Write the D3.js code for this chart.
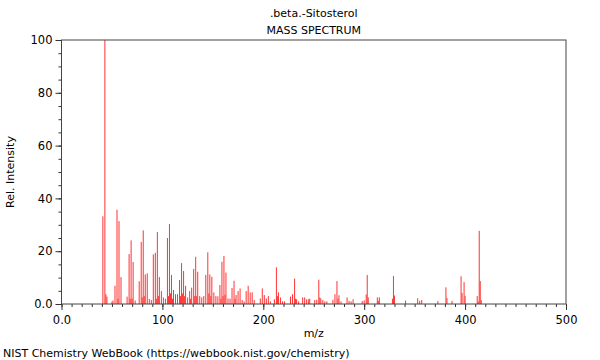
<body style="margin:0;background:#fff"></body>
<script src="https://d3js.org/d3.v7.min.js"></script>
<script>
    const width = 600;
    const height = 360;
    const margin = { top: 40, right: 34, bottom: 56, left: 61.5 };

    const title = ".beta.-Sitosterol";
    const subtitle = "MASS SPECTRUM";
    const footer = "NIST Chemistry WebBook (https://webbook.nist.gov/chemistry)";

    // m/z values and their relative intensities
    const mz = [41, 43, 44, 45, 50, 51, 53, 55, 56, 57, 59, 65, 67, 68, 69, 70, 71, 73, 77, 79, 80, 81, 82, 83, 85, 87, 89,
        91, 93, 94, 95, 96, 97, 99, 101, 103, 105, 106, 107, 108, 109, 110, 111, 113, 115, 117, 118, 119, 120, 121, 122,
        123, 125, 127, 128, 129, 131, 132, 133, 134, 135, 137, 139, 141, 143, 145, 146, 147, 148, 149, 151, 153, 155,
        157, 158, 159, 160, 161, 162, 163, 165, 167, 169, 171, 172, 173, 175, 177, 179, 181, 183, 185, 187, 189, 191,
        197, 199, 201, 203, 205, 207, 211, 213, 214, 215, 217, 219, 221, 227, 229, 231, 232, 233, 235, 239, 241, 243,
        245, 246, 251, 253, 255, 256, 257, 259, 261, 263, 269, 271, 273, 274, 275, 277, 283, 285, 287, 289, 298, 300,
        302, 303, 304, 313, 314, 315, 328, 329, 330, 341, 353, 355, 357, 373, 381, 382, 387, 396, 397, 399, 400, 412,
        413, 414, 415, 416];
    const intensity = [33.2, 100, 3.7, 2.8, 0.9, 1.3, 6.9, 35.7, 2, 31.4, 10.2, 2.8, 18.9, 2, 24.1, 2, 15.9, 1.3, 8.6, 23.5,
        2.5, 27.9, 3, 11.2, 11.6, 1.9, 1.5,
        18.8, 19.4, 2, 27.3, 3, 10.2, 4.9, 2.5, 2, 25, 3, 30.3, 4, 11, 2, 5.3, 3.7, 3.7, 9.1, 3, 15.5, 4, 12.5, 3,
        6.9, 2.5, 4.9, 2, 6.2, 13.3, 3, 17.9, 3, 12.2, 3, 2.5, 3, 11, 19.6, 4, 11.2, 3, 10.3, 4.4, 3, 2.9,
        7.2, 2, 16, 3, 18.2, 3.5, 11.9, 2.1, 2, 6.1, 8.8, 2, 3.4, 4.9, 5.9, 1.5, 1, 4.9, 6.9, 4.4, 4.4, 1.5,
        2.1, 5.9, 3.4, 2.1, 3, 1, 1.8, 13.9, 3, 4.4, 2.5, 1, 1, 2.8, 3.7, 9.6, 2, 1.8, 1, 2.5, 2.5, 1.8,
        1.8, 2, 1.5, 1.6, 9.2, 2.5, 2.1, 1.5, 1, 1, 1.6, 3.7, 8.7, 2, 3.3, 1, 2.5, 1.2, 1, 1.8, 1.1, 1.4,
        3.6, 11, 2.5, 2.5, 1.2, 2.5, 2, 10.6, 3.2, 1.3, 2.2, 1.2, 1.5, 1.1, 6.3, 2.3, 1.2, 10.5, 4.2, 8.3, 3.1, 3,
        1, 27.7, 8.7, 1.5];

    const xMajor = [0, 100, 200, 300, 400, 500];
    const xMajorLabels = ["0.0", "100", "200", "300", "400", "500"];
    const yMajor = [0, 20, 40, 60, 80, 100];
    const yMajorLabels = ["0.0", "20", "40", "60", "80", "100"];

    const peaks = mz.map(function (m, i) { return { mz: m, rel: intensity[i] }; });

    const x = d3.scaleLinear().domain([0, 500]).range([margin.left, width - margin.right]);
    const y = d3.scaleLinear().domain([0, 100]).range([height - margin.bottom, margin.top]);

    const svg = d3.select("body").append("svg")
        .attr("width", width)
        .attr("height", height)
        .style("font-family", "'DejaVu Sans', sans-serif")
        .style("display", "block");

    // peaks
    svg.append("g")
        .selectAll("line")
        .data(peaks)
        .enter()
        .append("line")
        .attr("x1", function (d) { return x(d.mz); })
        .attr("x2", function (d) { return x(d.mz); })
        .attr("y1", y(0))
        .attr("y2", function (d) { return y(d.rel); })
        .attr("stroke", "#ff3333")
        .attr("stroke-width", 1);

    // x axis: minor ticks every 10, labels every 100
    const xMinor = svg.append("g")
        .attr("transform", "translate(0," + y(0) + ")")
        .call(d3.axisBottom(x).tickValues(d3.range(0, 501, 10)).tickSize(3).tickFormat(""));
    const xAx = svg.append("g")
        .attr("transform", "translate(0," + y(0) + ")")
        .call(d3.axisBottom(x).tickValues(xMajor).tickSize(6)
            .tickFormat(function (d, i) { return xMajorLabels[i]; }));

    // y axis: minor ticks every 5, labels every 20
    const yMinor = svg.append("g")
        .attr("transform", "translate(" + x(0) + ",0)")
        .call(d3.axisLeft(y).tickValues(d3.range(0, 101, 5)).tickSize(3).tickFormat(""));
    const yAx = svg.append("g")
        .attr("transform", "translate(" + x(0) + ",0)")
        .call(d3.axisLeft(y).tickValues(yMajor).tickSize(6)
            .tickFormat(function (d, i) { return yMajorLabels[i]; }));

    [xMinor, xAx, yMinor, yAx].forEach(function (g) {
        g.select(".domain").remove();
        g.selectAll("line").attr("stroke", "#333");
        g.selectAll("text").attr("fill", "#000").style("font-size", "11.5px").style("font-family", "'DejaVu Sans', sans-serif");
    });
    xAx.selectAll("text").attr("dy", "0.95em");

    // frame
    svg.append("rect")
        .attr("x", x(0))
        .attr("y", y(100))
        .attr("width", x(500) - x(0))
        .attr("height", y(0) - y(100))
        .attr("fill", "none")
        .attr("stroke", "#444")
        .attr("stroke-width", 1);

    svg.append("text")
        .attr("x", (x(0) + x(500)) / 2)
        .attr("y", 17)
        .attr("text-anchor", "middle")
        .style("font-size", "11px")
        .text(title);
    svg.append("text")
        .attr("x", (x(0) + x(500)) / 2)
        .attr("y", 34)
        .attr("text-anchor", "middle")
        .style("font-size", "11px")
        .text(subtitle);

    svg.append("text")
        .attr("x", (x(0) + x(500)) / 2)
        .attr("y", 337)
        .attr("text-anchor", "middle")
        .style("font-size", "11px")
        .text("m/z");
    svg.append("text")
        .attr("transform", "translate(14," + (y(50)) + ") rotate(-90)")
        .attr("text-anchor", "middle")
        .style("font-size", "11px")
        .text("Rel. Intensity");

    svg.append("text")
        .attr("x", 3)
        .attr("y", 357)
        .style("font-size", "11px")
        .text(footer);
</script>
